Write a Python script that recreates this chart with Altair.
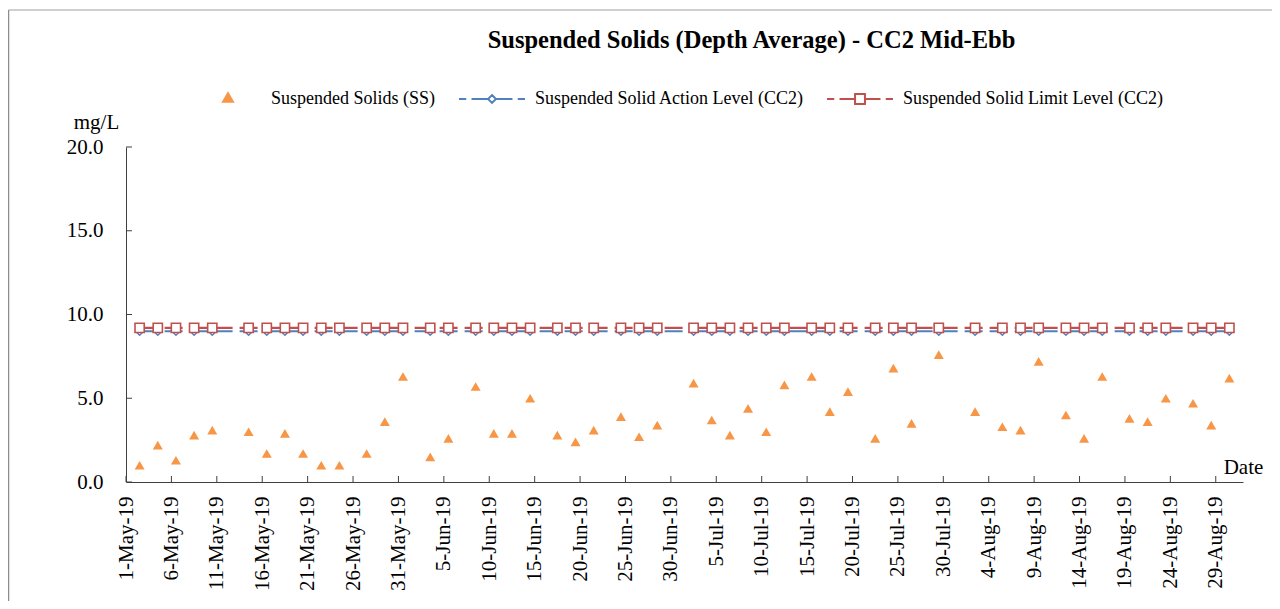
import altair as alt
import pandas as pd

# ---------------- data ----------------
sample_dates = [
    "2019-05-02", "2019-05-04", "2019-05-06", "2019-05-08", "2019-05-10",
    "2019-05-14", "2019-05-16", "2019-05-18", "2019-05-20", "2019-05-22",
    "2019-05-24", "2019-05-27", "2019-05-29", "2019-05-31",
    "2019-06-03", "2019-06-05", "2019-06-08", "2019-06-10", "2019-06-12",
    "2019-06-14", "2019-06-17", "2019-06-19", "2019-06-21", "2019-06-24",
    "2019-06-26", "2019-06-28",
    "2019-07-02", "2019-07-04", "2019-07-06", "2019-07-08", "2019-07-10",
    "2019-07-12", "2019-07-15", "2019-07-17", "2019-07-19", "2019-07-22",
    "2019-07-24", "2019-07-26", "2019-07-29",
    "2019-08-02", "2019-08-05", "2019-08-07", "2019-08-09", "2019-08-12",
    "2019-08-14", "2019-08-16", "2019-08-19", "2019-08-21", "2019-08-23",
    "2019-08-26", "2019-08-28", "2019-08-30",
]
ss_values = [
    1.0, 2.2, 1.3, 2.8, 3.1,
    3.0, 1.7, 2.9, 1.7, 1.0,
    1.0, 1.7, 3.6, 6.3,
    1.5, 2.6, 5.7, 2.9, 2.9,
    5.0, 2.8, 2.4, 3.1, 3.9,
    2.7, 3.4,
    5.9, 3.7, 2.8, 4.4, 3.0,
    5.8, 6.3, 4.2, 5.4, 2.6,
    6.8, 3.5, 7.6,
    4.2, 3.3, 3.1, 7.2, 4.0,
    2.6, 6.3, 3.8, 3.6, 5.0,
    4.7, 3.4, 6.2,
]
action_level = 9.0
limit_level = 9.2

tick_dates = [
    "2019-05-01", "2019-05-06", "2019-05-11", "2019-05-16", "2019-05-21",
    "2019-05-26", "2019-05-31", "2019-06-05", "2019-06-10", "2019-06-15",
    "2019-06-20", "2019-06-25", "2019-06-30", "2019-07-05", "2019-07-10",
    "2019-07-15", "2019-07-20", "2019-07-25", "2019-07-30", "2019-08-04",
    "2019-08-09", "2019-08-14", "2019-08-19", "2019-08-24", "2019-08-29",
]
y_ticks = [0, 5, 10, 15, 20]
series_names = [
    "Suspended Solids (SS)",
    "Suspended Solid Action Level (CC2)",
    "Suspended Solid Limit Level (CC2)",
]

ORANGE = "#F79646"
BLUE = "#4F81BD"
RED = "#C0504D"
FONT = "Liberation Serif"
W, H = 1117, 335

# ---------------- tables ----------------
def noon(d):
    return d + "T12:00:00Z"

ss_df = pd.DataFrame({"date": [noon(d) for d in sample_dates], "value": ss_values})
act_df = pd.DataFrame({"date": [noon(d) for d in sample_dates],
                       "value": [action_level] * len(sample_dates)})
lim_df = pd.DataFrame({"date": [noon(d) for d in sample_dates],
                       "value": [limit_level] * len(sample_dates)})
tick_df = pd.DataFrame({"date": [d + "T00:00:00Z" for d in tick_dates]})
ytick_df = pd.DataFrame({"value": y_ticks})
legend_df = pd.DataFrame({"series": series_names})


def dt(s):
    y, m, d = (int(p) for p in s.split("-"))
    return alt.DateTime(year=y, month=m, date=d, utc=True)


x_scale = alt.Scale(type="utc", domain=[dt("2019-05-01"), dt("2019-09-01")])
y_scale = alt.Scale(domain=[0, 20])

x_main = alt.X(
    "date:T",
    scale=x_scale,
    axis=alt.Axis(
        values=[dt(d) for d in tick_dates],
        format="%-d-%b-%y",
        labelAngle=-90,
        labelFont=FONT,
        labelFontSize=21,
        labelColor="black",
        labelPadding=14,
        labelOverlap=False,
        labelFlush=False,
        ticks=False,
        grid=False,
        domainColor="#404040",
        title="Date",
        titleFont=FONT,
        titleFontSize=21,
        titleFontWeight="normal",
        titleColor="black",
        titleAngle=0,
        titleX=1117,
        titleY=-9,
        titleAlign="center",
        titleBaseline="alphabetic",
    ),
)
y_main = alt.Y(
    "value:Q",
    scale=y_scale,
    axis=alt.Axis(
        values=y_ticks,
        format=".1f",
        labelFont=FONT,
        labelFontSize=21,
        labelColor="black",
        labelPadding=23,
        ticks=False,
        grid=False,
        domainColor="#404040",
        title="mg/L",
        titleFont=FONT,
        titleFontSize=21,
        titleFontWeight="normal",
        titleColor="black",
        titleAngle=0,
        titleX=-30,
        titleY=-19,
        titleAlign="center",
        titleBaseline="alphabetic",
    ),
)
x_plain = alt.X("date:T", scale=x_scale)
y_plain = alt.Y("value:Q", scale=y_scale)

# frame around chart area (decoration)
frame_left = alt.Chart(ytick_df.head(1)).mark_rule(color="#8c8c8c", strokeWidth=1.5).encode(
    x=alt.value(-117.5), y=alt.value(-137), y2=alt.value(470)
)
frame_top = alt.Chart(ytick_df.head(1)).mark_rule(color="#a0a0a0", strokeWidth=1.2).encode(
    x=alt.value(-117.5), x2=alt.value(1160), y=alt.value(-137)
)

ss_layer = alt.Chart(ss_df).mark_point(
    shape="triangle-up", filled=True, color=ORANGE, size=100, opacity=1
).encode(x=x_main, y=y_main)

act_line = alt.Chart(act_df).mark_line(
    color=BLUE, strokeWidth=2.2, strokeDash=[18, 7]
).encode(x=x_plain, y=y_plain)
act_pts = alt.Chart(act_df).mark_point(
    shape="diamond", filled=True, fill="white", stroke=BLUE, strokeWidth=1.5,
    size=65, opacity=1
).encode(x=x_plain, y=y_plain)

lim_line = alt.Chart(lim_df).mark_line(
    color=RED, strokeWidth=2.2, strokeDash=[18, 7]
).encode(x=x_plain, y=y_plain)
lim_pts = alt.Chart(lim_df).mark_point(
    shape="square", filled=True, fill="white", stroke=RED, strokeWidth=1.6,
    size=85, opacity=1
).encode(x=x_plain, y=y_plain)

xticks = alt.Chart(tick_df).mark_rule(color="#404040", strokeWidth=1).encode(
    x=x_plain, y=alt.value(H), y2=alt.value(H - 6)
)
yticks = alt.Chart(ytick_df).mark_rule(color="#404040", strokeWidth=1).encode(
    y=y_plain, x=alt.value(0), x2=alt.value(6)
)

# legend symbols (custom paths: dashed line + marker); nested triangles read as solid
sym_ss = ("M0,-0.173L0.15,0.087L-0.15,0.087Z"
          "M0,-0.104L0.09,0.052L-0.09,0.052Z"
          "M0,-0.035L0.03,0.017L-0.03,0.017Z")
sym_act = ("M-1,0H-0.78M-0.62,0H-0.13"
           "M0,-0.12L0.12,0L0,0.12L-0.12,0Z"
           "M0.13,0H0.62M0.78,0H1")
sym_lim = ("M-1,0H-0.78M-0.62,0H-0.15"
           "M-0.15,-0.15H0.15V0.15H-0.15Z"
           "M0.15,0H0.62M0.78,0H1")

legend_layer = alt.Chart(legend_df).mark_point(
    filled=True, opacity=0, strokeWidth=2
).encode(
    shape=alt.Shape("series:N", title=None,
                    scale=alt.Scale(domain=series_names, range=[sym_ss, sym_act, sym_lim])),
    fill=alt.Fill("series:N", title=None,
                  scale=alt.Scale(domain=series_names, range=[ORANGE, "white", "white"])),
    stroke=alt.Stroke("series:N", title=None,
                      scale=alt.Scale(domain=series_names, range=[ORANGE, BLUE, RED])),
)

chart = alt.layer(
    frame_left, frame_top,
    act_line, lim_line, ss_layer, act_pts, lim_pts,
    xticks, yticks, legend_layer,
).properties(
    width=W,
    height=H,
    background="white",
    autosize=alt.AutoSizeParams(type="none"),
    padding={"left": 118, "top": 139, "right": 29, "bottom": 119},
    title=alt.TitleParams(
        "Suspended Solids (Depth Average) - CC2 Mid-Ebb",
        font=FONT, fontSize=24.5, fontWeight="bold", color="black",
        anchor="middle", dx=67, dy=61, offset=17,
    ),
).configure_view(stroke=None).configure_legend(
    orient="none",
    legendX=68,
    legendY=-82,
    direction="horizontal",
    columns=3,
    symbolSize=4356,
    symbolStrokeWidth=2,
    labelFont=FONT,
    labelFontSize=18,
    labelColor="black",
    labelLimit=500,
    labelOffset=9,
    columnPadding=19,
    padding=0,
)

chart.save("out.html", embed_options={"renderer": "svg", "actions": False})
